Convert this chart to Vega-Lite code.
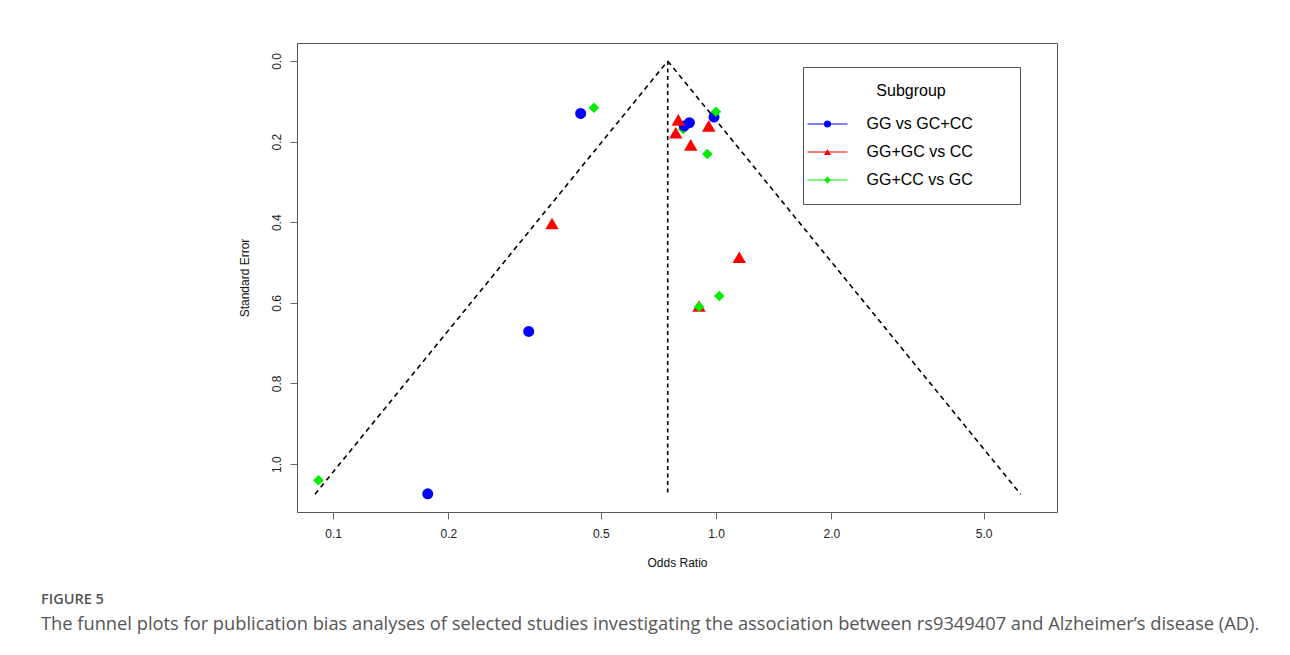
{
  "$schema": "https://vega.github.io/schema/vega-lite/v6.json",
  "width": 760,
  "height": 469,
  "autosize": {"type": "none"},
  "padding": {"left": 297, "top": 43, "right": 233, "bottom": 143},
  "background": "white",
  "config": {
    "view": {"stroke": "#555", "strokeWidth": 1},
    "axis": {
      "labelFont": "Liberation Sans",
      "labelFontSize": 12,
      "labelColor": "#222",
      "titleFont": "Liberation Sans",
      "titleFontSize": 12,
      "titleFontWeight": "normal",
      "titleColor": "#111",
      "domain": false,
      "grid": false,
      "tickColor": "#666",
      "tickSize": 7,
      "tickWidth": 1
    }
  },
  "datasets": {
    "points": [
      {"group": "GG+CC vs GC", "or": 0.821, "se": 0.169},
      {"group": "GG vs GC+CC", "or": 0.4431, "se": 0.130},
      {"group": "GG vs GC+CC", "or": 0.3243, "se": 0.671},
      {"group": "GG vs GC+CC", "or": 0.1767, "se": 1.074},
      {"group": "GG vs GC+CC", "or": 0.826, "se": 0.161},
      {"group": "GG vs GC+CC", "or": 0.852, "se": 0.153},
      {"group": "GG vs GC+CC", "or": 0.988, "se": 0.139},
      {"group": "GG+GC vs CC", "or": 0.797, "se": 0.146},
      {"group": "GG+GC vs CC", "or": 0.785, "se": 0.178},
      {"group": "GG+GC vs CC", "or": 0.859, "se": 0.208},
      {"group": "GG+GC vs CC", "or": 0.957, "se": 0.161},
      {"group": "GG+GC vs CC", "or": 1.150, "se": 0.487},
      {"group": "GG+GC vs CC", "or": 0.373, "se": 0.403},
      {"group": "GG+GC vs CC", "or": 0.903, "se": 0.608},
      {"group": "GG+CC vs GC", "or": 0.480, "se": 0.116},
      {"group": "GG+CC vs GC", "or": 1.0, "se": 0.126},
      {"group": "GG+CC vs GC", "or": 0.949, "se": 0.231},
      {"group": "GG+CC vs GC", "or": 1.020, "se": 0.583},
      {"group": "GG+CC vs GC", "or": 0.903, "se": 0.610},
      {"group": "GG+CC vs GC", "or": 0.0916, "se": 1.040}
    ],
    "groups": [
      {"group": "GG vs GC+CC"},
      {"group": "GG+GC vs CC"},
      {"group": "GG+CC vs GC"}
    ],
    "funnel": [
      {"side": "left", "or": 0.0897, "se": 1.075},
      {"side": "left", "or": 0.748, "se": 0},
      {"side": "right", "or": 0.748, "se": 0},
      {"side": "right", "or": 6.246, "se": 1.075}
    ],
    "centre": [
      {"or": 0.748, "se": 0, "se2": 1.075}
    ]
  },
  "title": {
    "text": "FIGURE 5",
    "subtitle": "The funnel plots for publication bias analyses of selected studies investigating the association between rs9349407 and Alzheimer\u2019s disease (AD).",
    "orient": "bottom",
    "anchor": "start",
    "frame": "group",
    "dx": -256,
    "offset": 25,
    "font": "Open Sans",
    "fontSize": 14.5,
    "fontWeight": 600,
    "color": "#555",
    "subtitleFont": "Open Sans",
    "subtitleFontSize": 18.3,
    "subtitleColor": "#555",
    "subtitlePadding": 8
  },
  "encoding": {
    "x": {
      "field": "or",
      "type": "quantitative",
      "scale": {"type": "log", "domain": [0.0805, 7.77], "nice": false, "zero": false},
      "axis": {
        "title": "Odds Ratio",
        "values": [0.1, 0.2, 0.5, 1, 2, 5],
        "format": ".1f",
        "labelPadding": 9,
        "titlePadding": 18,
        "labelFlush": false,
        "labelOverlap": false
      }
    },
    "y": {
      "field": "se",
      "type": "quantitative",
      "scale": {"domain": [-0.0447, 1.119], "reverse": true, "nice": false, "zero": false},
      "axis": {
        "title": "Standard Error",
        "values": [0, 0.2, 0.4, 0.6, 0.8, 1.0],
        "format": ".1f",
        "labelAngle": 270,
        "labelAlign": "center",
        "labelBaseline": "alphabetic",
        "labelPadding": 10,
        "titlePadding": 19,
        "labelFlush": false,
        "labelOverlap": false
      }
    }
  },
  "layer": [
    {
      "data": {"name": "funnel"},
      "mark": {"type": "line", "color": "black", "strokeWidth": 1.6, "strokeDash": [5, 4], "clip": false},
      "encoding": {"detail": {"field": "side", "type": "nominal"}}
    },
    {
      "data": {"name": "centre"},
      "mark": {"type": "rule", "color": "black", "strokeWidth": 1.6, "strokeDash": [4, 3.5]},
      "encoding": {"y2": {"field": "se2"}}
    },
    {
      "data": {"name": "groups"},
      "mark": {"type": "line", "strokeWidth": 1.2},
      "encoding": {
        "stroke": {
          "field": "group",
          "type": "nominal",
          "scale": {"domain": ["GG+GC vs CC", "GG vs GC+CC", "GG+CC vs GC"], "range": ["#FF0000", "#0000FF", "#00EE00"]},
          "legend": {
            "orient": "none",
            "legendX": 506,
            "legendY": 24,
            "values": ["GG vs GC+CC", "GG+GC vs CC", "GG+CC vs GC"],
            "title": "\u2800",
            "titleAnchor": "start",
            "titleFont": "Liberation Sans",
            "titleFontSize": 16,
            "titleFontWeight": "normal",
            "titleOpacity": 0,
            "titlePadding": 17,
            "labelFont": "Liberation Sans",
            "labelFontSize": 16,
            "labelOpacity": 0,
            "labelExpr": "''",
            "labelOffset": 31,
            "padding": 16,
            "rowPadding": 12,
            "strokeColor": "transparent",
            "fillColor": "transparent",
            "symbolType": "M-5.71,0H5.71",
            "symbolSize": 49,
            "symbolStrokeWidth": 1.2,
            "symbolOffset": 0.5
          }
        }
      }
    },
    {
      "data": {"name": "points"},
      "mark": {"type": "point", "filled": true, "opacity": 1},
      "encoding": {
        "color": {
          "field": "group",
          "type": "nominal",
          "scale": {"domain": ["GG vs GC+CC", "GG+GC vs CC", "GG+CC vs GC"], "range": ["#0000FF", "#FF0000", "#00EE00"]},
          "legend": {
            "orient": "none",
            "legendX": 506,
            "legendY": 24,
            "title": "Subgroup",
            "titleAnchor": "middle",
            "titleFont": "Liberation Sans",
            "titleFontSize": 16,
            "titleFontWeight": "normal",
            "titleColor": "#000",
            "titlePadding": 17,
            "labelFont": "Liberation Sans",
            "labelFontSize": 16,
            "labelColor": "#000",
            "labelOffset": 31,
            "labelLimit": 300,
            "labelExpr": "datum.label + '\u2009\u2009\u2800\u2800'",
            "padding": 16,
            "rowPadding": 12,
            "strokeColor": "#555",
            "fillColor": "transparent",
            "symbolSize": 49,
            "symbolStrokeWidth": 0,
            "symbolOffset": 0.5
          }
        },
        "shape": {
          "field": "group",
          "type": "nominal",
          "scale": {"domain": ["GG vs GC+CC", "GG+GC vs CC", "GG+CC vs GC"], "range": ["circle", "triangle-up", "diamond"]}
        },
        "size": {
          "field": "group",
          "type": "nominal",
          "scale": {"type": "ordinal", "domain": ["GG+CC vs GC", "GG+GC vs CC", "GG vs GC+CC"], "range": [110, 180, 121]},
          "legend": null
        }
      }
    }
  ]
}
